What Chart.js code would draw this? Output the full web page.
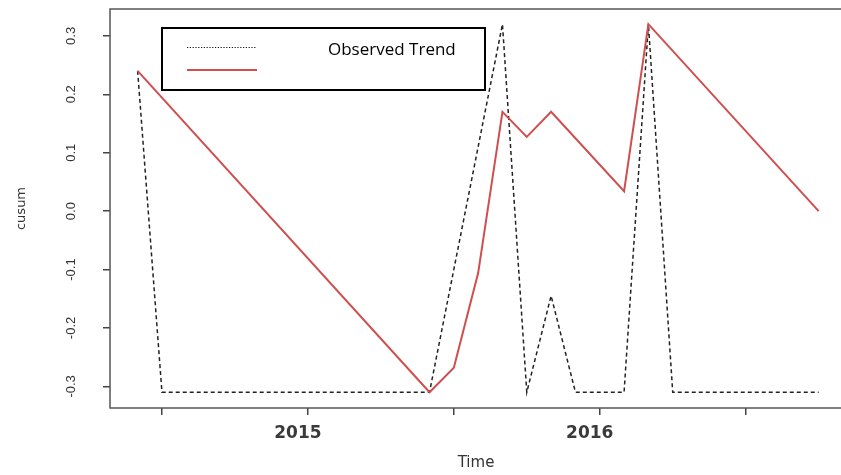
<!DOCTYPE html>
<html>
<head>
<meta charset="utf-8">
<script src="https://cdn.jsdelivr.net/npm/chart.js@4.4.0/dist/chart.umd.min.js"></script>
<style>
  html, body { margin: 0; padding: 0; background: #fff; overflow: hidden; }
  #wrap { width: 846px; height: 475px; }
</style>
</head>
<body>
<div id="wrap"><canvas id="cusumChart" width="846" height="475"></canvas></div>
<script>
// monthly series, June 2014 .. October 2016
const months = [
  '2014-06', '2014-07', '2014-08', '2014-09', '2014-10', '2014-11', '2014-12',
  '2015-01', '2015-02', '2015-03', '2015-04', '2015-05', '2015-06', '2015-07',
  '2015-08', '2015-09', '2015-10', '2015-11', '2015-12', '2016-01', '2016-02',
  '2016-03', '2016-04', '2016-05', '2016-06', '2016-07', '2016-08', '2016-09',
  '2016-10'
];

const observed = [
  0.24, -0.31, -0.31, -0.31, -0.31, -0.31, -0.31,
  -0.31, -0.31, -0.31, -0.31, -0.31, -0.31, -0.10,
  0.11, 0.32, -0.31, -0.145, -0.31, -0.31, -0.31,
  0.32, -0.31, -0.31, -0.31, -0.31, -0.31, -0.31,
  -0.31
];

// trend only has values at its turning points, gaps are joined straight
const trend = [
  0.24, null, null, null, null, null, null,
  null, null, null, null, null, -0.31, -0.268,
  -0.106, 0.17, 0.127, 0.17, null, null, 0.034,
  0.32, null, null, null, null, null, null,
  0.0
];

const xTickValues = [2014.5, 2015, 2015.5, 2016, 2016.5];
const yTickValues = [-0.3, -0.2, -0.1, 0.0, 0.1, 0.2, 0.3];

const legendText = 'Observed Trend';

function toTime(label) {
  const [y, m] = label.split('-').map(Number);
  return y + (m - 1) / 12;
}

const times = months.map(toTime);

const frame = {
  id: 'frame',
  afterDatasetsDraw(chart) {
    const { ctx, chartArea: a } = chart;
    ctx.save();
    ctx.strokeStyle = '#555';
    ctx.lineWidth = 1.5;
    ctx.strokeRect(a.left, a.top, a.right - a.left, a.bottom - a.top);
    ctx.restore();
  }
};

// the pasted-on legend box of the original figure
const overlayLegend = {
  id: 'overlayLegend',
  afterDraw(chart) {
    const ctx = chart.ctx;
    ctx.save();
    ctx.fillStyle = '#fff';
    ctx.fillRect(162, 28, 323, 62);
    ctx.strokeStyle = '#000';
    ctx.lineWidth = 2;
    ctx.strokeRect(162, 28, 323, 62);

    ctx.beginPath();
    ctx.setLineDash([1.2, 1.6]);
    ctx.lineWidth = 1;
    ctx.strokeStyle = '#111';
    ctx.moveTo(187, 47.5);
    ctx.lineTo(257, 47.5);
    ctx.stroke();

    ctx.beginPath();
    ctx.setLineDash([]);
    ctx.lineWidth = 2;
    ctx.strokeStyle = '#cf4f4f';
    ctx.moveTo(187, 70);
    ctx.lineTo(257, 70);
    ctx.stroke();

    ctx.fillStyle = '#000';
    ctx.font = '17px "Open Sans"';
    ctx.textBaseline = 'middle';
    ctx.fillText(legendText, 328, 50);
    ctx.restore();
  }
};

new Chart(document.getElementById('cusumChart'), {
  type: 'line',
  data: {
    datasets: [
      {
        label: 'Trend',
        data: times.map((t, i) => ({ x: t, y: trend[i] })),
        borderColor: '#cf4f4f',
        borderWidth: 2,
        pointRadius: 0,
        tension: 0,
        spanGaps: true
      },
      {
        label: 'Observed',
        data: times.map((t, i) => ({ x: t, y: observed[i] })),
        borderColor: '#222',
        borderWidth: 1.5,
        borderDash: [4, 3],
        pointRadius: 0,
        tension: 0
      }
    ]
  },
  options: {
    responsive: false,
    animation: false,
    layout: { padding: { left: 0, top: 9, right: 4, bottom: 0 } },
    plugins: {
      legend: { display: false },
      tooltip: { enabled: false }
    },
    scales: {
      x: {
        type: 'linear',
        min: 2014.322,
        max: 2016.83,
        afterBuildTicks: (scale) => { scale.ticks = xTickValues.map(v => ({ value: v })); },
        afterFit: (scale) => {
          scale.height = 67;
          scale.paddingLeft = 0;
          scale.paddingRight = 0;
        },
        border: { display: false },
        grid: { drawOnChartArea: false, drawTicks: true, tickLength: 7, tickColor: '#444', lineWidth: 1.5 },
        ticks: {
          padding: 8,
          labelOffset: -10,
          maxRotation: 0,
          autoSkip: false,
          color: '#3a3a3a',
          font: { family: 'DejaVu Sans', size: 17, weight: 'bold' },
          callback: (v) => Number.isInteger(v) ? String(v) : ''
        },
        title: {
          display: true,
          text: 'Time',
          color: '#333',
          font: { family: 'DejaVu Sans', size: 15 },
          padding: { top: 0, bottom: 3 }
        }
      },
      y: {
        min: -0.337,
        max: 0.346,
        afterBuildTicks: (scale) => { scale.ticks = yTickValues.map(v => ({ value: v })); },
        afterFit: (scale) => {
          scale.width = 110;
          scale.paddingTop = 0;
          scale.paddingBottom = 0;
        },
        border: { display: false },
        grid: { drawOnChartArea: false, drawTicks: true, tickLength: 7, tickColor: '#444', lineWidth: 1.5 },
        ticks: {
          padding: 20,
          minRotation: 90,
          maxRotation: 90,
          crossAlign: 'center',
          color: '#333',
          font: { family: 'Liberation Sans', size: 13 },
          callback: (v) => v.toFixed(1)
        },
        title: {
          display: true,
          text: 'cusum',
          color: '#333',
          font: { family: 'DejaVu Sans', size: 13 },
          padding: { top: 14, bottom: 0 }
        }
      }
    }
  },
  plugins: [frame, overlayLegend]
});
</script>
</body>
</html>
